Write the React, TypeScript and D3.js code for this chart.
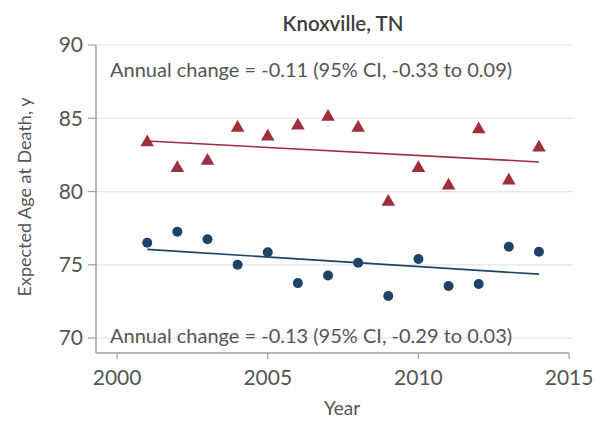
import React from "react";
import * as d3 from "d3";

const years = [2001, 2002, 2003, 2004, 2005, 2006, 2007, 2008, 2009, 2010, 2011, 2012, 2013, 2014];
const triangleValues = [83.35, 81.6, 82.1, 84.35, 83.75, 84.5, 85.1, 84.35, 79.3, 81.6, 80.4, 84.25, 80.75, 83.0];
const circleValues = [76.5, 77.26, 76.74, 75.0, 75.85, 73.75, 74.27, 75.14, 72.87, 75.39, 73.55, 73.69, 76.23, 75.89];
const trendYears = [2001, 2014];
const triangleTrend = [83.45, 82.02];
const circleTrend = [76.05, 74.36];
const xTicks = [2000, 2005, 2010, 2015];
const yTicks = [70, 75, 80, 85, 90];
const title = "Knoxville, TN";
const topNote = "Annual change = -0.11 (95% CI, -0.33 to 0.09)";
const bottomNote = "Annual change = -0.13 (95% CI, -0.29 to 0.03)";
const xLabel = "Year";
const yLabel = "Expected Age at Death, y";

const W = 595;
const H = 422;
const left = 96;
const right = 573;
const top = 45;
const bottom = 353;

export default function App() {
  const x = d3.scaleLinear().domain([1999.3, 2015.13]).range([left, right]);
  const y = d3.scaleLinear().domain([68.98, 90]).range([bottom, top]);
  const red = "#9e2f3c";
  const blue = "#1d4468";
  const textColor = "#555";
  const font = "Lato, 'Open Sans', sans-serif";
  const tri = d3.symbol().type(d3.symbolTriangle).size(80)();
  const line = d3
    .line<number>()
    .x((_, i) => x(trendYears[i]))
    .y((d) => y(d));

  return (
    <svg width={W} height={H} style={{ position: "absolute", left: 0, top: 0, background: "#fff" }}>
      {yTicks.map((t) => (
        <line key={"g" + t} x1={left} x2={right} y1={y(t)} y2={y(t)} stroke="#e4e4e4" strokeWidth={1.2} />
      ))}
      <line x1={left} x2={left} y1={top} y2={bottom} stroke="#a0a0a0" strokeWidth={1.5} />
      <line x1={left} x2={x(2015)} y1={bottom} y2={bottom} stroke="#a0a0a0" strokeWidth={1.5} />
      {yTicks.map((t) => (
        <g key={"y" + t}>
          <line x1={left - 8} x2={left} y1={y(t)} y2={y(t)} stroke="#a0a0a0" strokeWidth={1.2} />
          <text x={left - 13} y={y(t)} dy="0.35em" textAnchor="end" fontSize={21} fill={textColor} fontFamily={font}>
            {t}
          </text>
        </g>
      ))}
      {xTicks.map((t) => (
        <g key={"x" + t}>
          <line x1={x(t)} x2={x(t)} y1={bottom} y2={bottom + 6} stroke="#a0a0a0" strokeWidth={1.2} />
          <text x={x(t)} y={bottom + 32} textAnchor="middle" fontSize={21} fill={textColor} fontFamily={font}>
            {t}
          </text>
        </g>
      ))}
      <text x={343} y={31} textAnchor="middle" fontSize={20.5} fontWeight={600} fill="#3d3d3d" fontFamily={font}>
        {title}
      </text>
      <text x={110} y={77} fontSize={20} fill={textColor} fontFamily={font}>
        {topNote}
      </text>
      <text x={110} y={343} fontSize={20} fill={textColor} fontFamily={font}>
        {bottomNote}
      </text>
      <text x={342} y={415} textAnchor="middle" fontSize={19} fill={textColor} fontFamily={font}>
        {xLabel}
      </text>
      <text
        transform={`translate(31,197) rotate(-90)`}
        textAnchor="middle"
        fontSize={18}
        fill={textColor}
        fontFamily={font}
      >
        {yLabel}
      </text>
      <path d={line(triangleTrend) || ""} fill="none" stroke={red} strokeWidth={1.6} />
      <path d={line(circleTrend) || ""} fill="none" stroke={blue} strokeWidth={1.6} />
      {years.map((yr, i) => (
        <path key={"t" + yr} d={tri || ""} transform={`translate(${x(yr)},${y(triangleValues[i])})`} fill={red} />
      ))}
      {years.map((yr, i) => (
        <circle key={"c" + yr} cx={x(yr)} cy={y(circleValues[i])} r={5} fill={blue} />
      ))}
    </svg>
  );
}
